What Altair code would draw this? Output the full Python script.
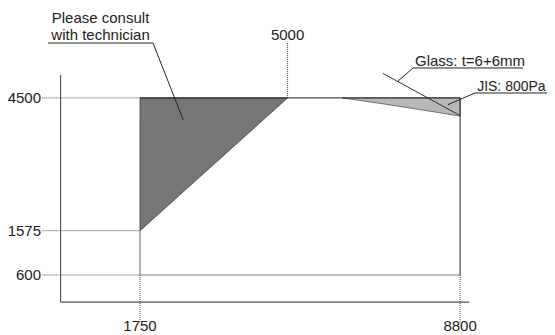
import altair as alt
import pandas as pd

# ---- values ----
x_bottom_ticks = [1750, 8800]
x_top_tick = 5000
y_ticks = [4500, 1575, 600]
axis_x_end = 9000
axis_y_end = 5000

# dark region "Please consult with technician"
dark_x = [1750, 5000]
dark_y = [1575, 4500]
dark_top = 4500

# light region (JIS: 800Pa)
light_x = [6200, 7000, 7900, 8800]
light_y = [4500, 4385, 4245, 4100]

# glass curve
glass_x = [7100, 8800]
glass_y = [5040, 4110]

label_please = ["Please consult", "with technician"]
label_glass = "Glass: t=6+6mm"
label_jis = "JIS: 800Pa"

FONT = "Liberation Sans"
FS = 15
TXT = "#222222"

xs = alt.Scale(domain=[-1158, 10714], nice=False, zero=False)
ys = alt.Scale(domain=[-722, 6480], nice=False, zero=False)


def X(f="x"):
    return alt.X(f + ":Q", scale=xs, axis=None)


def Y(f="y"):
    return alt.Y(f + ":Q", scale=ys, axis=None)


def segs(rows, **kw):
    df = pd.DataFrame(rows, columns=["x", "y", "x2", "y2"])
    return alt.Chart(df).mark_rule(**kw).encode(
        x=X(), y=Y(), x2="x2:Q", y2="y2:Q"
    )


lbl_left = -400
below = -430

dark_df = pd.DataFrame({"x": dark_x, "y": dark_y, "y2": [dark_top] * len(dark_x)})
dark = alt.Chart(dark_df).mark_area(color="#767676", stroke="#3c3c3c", strokeWidth=0.8).encode(
    x=X(), y=Y(), y2="y2:Q"
)
light_df = pd.DataFrame({"x": light_x, "y": light_y, "y2": [y_ticks[0]] * len(light_x)})
light = alt.Chart(light_df).mark_area(color="#b8b8b8", stroke="#555555", strokeWidth=0.8).encode(
    x=X(), y=Y(), y2="y2:Q"
)

axes = segs([[0, 0, 0, axis_y_end], [0, 0, axis_x_end, 0]], color="#555555", strokeWidth=1.2)

dotted = segs(
    [[lbl_left, t, x_bottom_ticks[0], t] for t in y_ticks]
    + [[x, y_ticks[2], x, below] for x in x_bottom_ticks]
    + [[x_top_tick, y_ticks[0], x_top_tick, 5730]],
    color="#444444", strokeWidth=1, strokeDash=[1, 1],
)

solid_black = segs(
    [[x_bottom_ticks[0], y_ticks[0], x_bottom_ticks[1], y_ticks[0]],
     [x_bottom_ticks[1], y_ticks[0], x_bottom_ticks[1], y_ticks[2]]],
    color="#222222", strokeWidth=1,
)
solid_gray = segs(
    [[x_bottom_ticks[0], y_ticks[2], x_bottom_ticks[1], y_ticks[2]],
     [x_bottom_ticks[0], y_ticks[1], x_bottom_ticks[0], y_ticks[2]]],
    color="#7a7a7a", strokeWidth=1.2,
)

glass = alt.Chart(pd.DataFrame({"x": glass_x, "y": glass_y})).mark_line(
    color="#333333", strokeWidth=1
).encode(x=X(), y=Y())

leaders = segs(
    [
        [-277, 5709, 2036, 5709],   # underline "with technician"
        [2036, 5709, 2703, 4013],   # leader to dark region
        [7763, 5159, 10186, 5159],  # underline glass
        [7763, 5159, 7410, 4850],   # leader glass
        [9128, 4608, 10714, 4608],  # underline JIS
        [9128, 4608, 8530, 4350],   # leader JIS
    ],
    color="#222222", strokeWidth=1,
)

def text(rows, align, baseline="alphabetic", size=FS):
    df = pd.DataFrame(rows, columns=["x", "y", "t"])
    return alt.Chart(df).mark_text(
        align=align, baseline=baseline, font=FONT, fontSize=size, color=TXT
    ).encode(x=X(), y=Y(), text="t:N")

y_lbls = text([[-431, t, str(t)] for t in y_ticks], "right", "middle")
x_lbls = text([[x, -640, str(x)] for x in x_bottom_ticks], "center")
top_lbl = text([[x_top_tick, 5770, str(x_top_tick)]], "center")
please = text([[880, 6150, label_please[0]], [880, 5773, label_please[1]]], "center")
glass_lbl = text([[7807, 5210, label_glass]], "left")
jis_lbl = text([[9175, 4660, label_jis]], "left", size=14)

chart = alt.layer(
    dark, light, axes, dotted, solid_gray, solid_black, glass, leaders,
    y_lbls, x_lbls, top_lbl, please, glass_lbl, jis_lbl,
).properties(
    width=539, height=327, autosize=alt.AutoSizeParams(type="none"), padding=0
).configure_view(stroke=None)

chart.save("out.html", embed_options={"renderer": "svg", "actions": False})
